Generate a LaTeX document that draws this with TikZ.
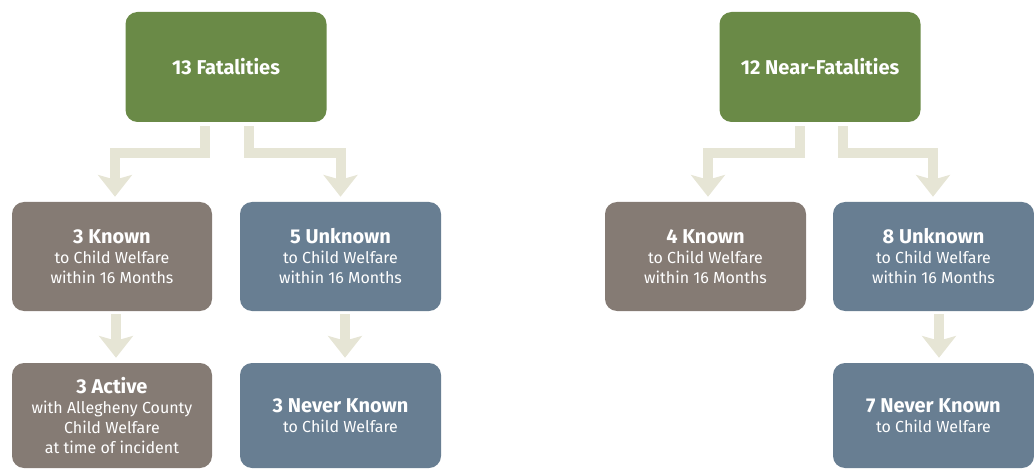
\documentclass[tikz,border=0pt]{standalone}
\usepackage{fontspec}
\setmainfont{Fira Sans}
\usetikzlibrary{arrows.meta,calc}
\definecolor{cgreen}{HTML}{6A8A47}
\definecolor{cbrown}{HTML}{857B74}
\definecolor{cblue}{HTML}{687E92}
\definecolor{carrow}{HTML}{E6E5D5}
\newcommand{\ttl}[1]{{\bfseries\fontsize{15}{15}\selectfont #1}}
\begin{document}
\begin{tikzpicture}[x=0.75pt,y=-0.75pt,
  box/.style={rounded corners=9pt, minimum width=150.75pt, minimum height=81.75pt,
    text=white, align=center, inner sep=0pt, font=\fontsize{12}{15}\selectfont},
  topbox/.style={box, fill=cgreen, minimum height=82.5pt},
  knownbox/.style={box, fill=cbrown},
  unkbox/.style={box, fill=cblue},
  lowbox/.style={minimum height=78.75pt},
  conn/.style={draw=carrow, line width=7.5pt, line join=miter,
    -{Stealth[length=16.5pt, width=26pt, inset=3.75pt, line width=0pt]}}]
\useasboundingbox (0,0) rectangle (1034,470);
% left group
\node[topbox] (f) at (226,67) {\ttl{13 Fatalities}};
\node[knownbox, minimum width=150pt] (k1) at (112,256.5) {\ttl{3 Known}\\to Child Welfare\\within 16 Months};
\node[unkbox] (u1) at (340.5,256.5) {\ttl{5 Unknown}\\to Child Welfare\\within 16 Months};
\node[knownbox, lowbox, minimum width=150pt] (a1) at (112,415.5) {\ttl{3 Active}\\with Allegheny County\\Child Welfare\\at time of incident};
\node[unkbox, lowbox] (n1) at (340.5,415.5) {\ttl{3 Never Known}\\to Child Welfare};
% right group
\node[topbox] (nf) at (820,67) {\ttl{12 Near-Fatalities}};
\node[knownbox] (k2) at (705.5,256.5) {\ttl{4 Known}\\to Child Welfare\\within 16 Months};
\node[unkbox] (u2) at (933.5,256.5) {\ttl{8 Unknown}\\to Child Welfare\\within 16 Months};
\node[unkbox, lowbox] (n2) at (933.5,415.5) {\ttl{7 Never Known}\\to Child Welfare};
% connectors
\draw[conn] ($(f.south)+(-21,4)$) -- ++(0,27) -| ($(k1.north)+(3,-5)$);
\draw[conn] ($(f.south)+(23,4)$) -- ++(0,27) -| ($(u1.north)+(0,-5)$);
\draw[conn] ($(nf.south)+(-20.5,4)$) -- ++(0,27) -| ($(k2.north)+(2.5,-5)$);
\draw[conn] ($(nf.south)+(22.5,4)$) -- ++(0,27) -| ($(u2.north)+(-0.5,-5)$);
\draw[conn] ($(k1.south)+(4,3)$) -- ($(a1.north)+(4,-5)$);
\draw[conn] ($(u1.south)+(4.5,3)$) -- ($(n1.north)+(4.5,-5)$);
\draw[conn] ($(u2.south)+(5.5,3)$) -- ($(n2.north)+(5.5,-5)$);
\end{tikzpicture}
\end{document}
